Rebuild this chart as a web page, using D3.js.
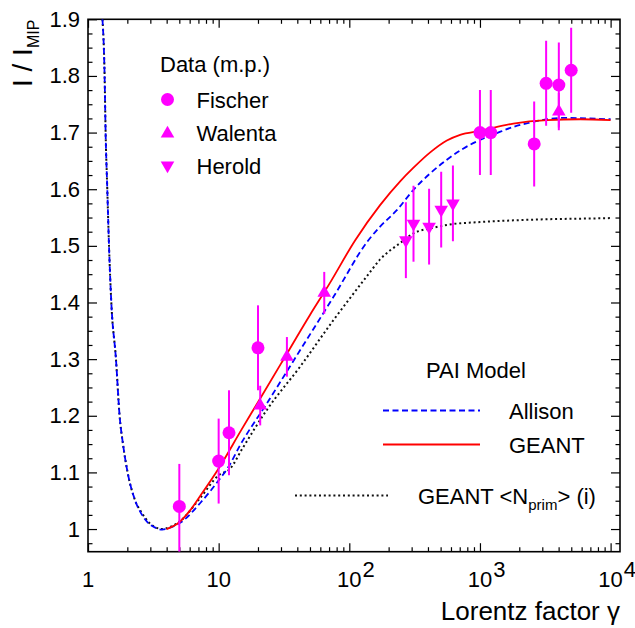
<!DOCTYPE html>
<html>
<head>
<meta charset="utf-8">
<script src="https://cdn.jsdelivr.net/npm/d3@7"></script>
<style>
  html, body { margin: 0; padding: 0; background: #fff; }
  svg { display: block; font-family: "Liberation Sans", Arial, Helvetica, sans-serif; }
</style>
</head>
<body>
<svg id="chart" width="635" height="628"></svg>
<script>
// ---- measured points (most probable value), relative to minimum ionisation ----
const fischerGamma  = [5, 10, 12, 20, 1000, 1210, 2600, 3210, 4015, 4990];
const fischerValue  = [1.04, 1.12, 1.17, 1.32, 1.70, 1.70, 1.68, 1.787, 1.784, 1.81];
const fischerErrLo  = [0.08, 0.075, 0.075, 0.075, 0.075, 0.075, 0.075, 0.075, 0.075, 0.075];
const fischerErrHi  = [0.075, 0.075, 0.075, 0.075, 0.075, 0.075, 0.075, 0.075, 0.075, 0.075];

const walentaGamma  = [20.8, 33.3, 64.3, 4015];
const walentaValue  = [1.218, 1.304, 1.417, 1.737];
const walentaErr    = [0.035, 0.035, 0.037, 0.033];

const heroldGamma   = [271, 310, 408, 505, 621];
const heroldValue   = [1.51, 1.539, 1.534, 1.564, 1.575];
const heroldErr     = [0.067, 0.067, 0.067, 0.067, 0.067];

// ---- PAI model curves ----
const allisonGamma = [1.29, 1.34, 1.364, 1.405, 1.448, 1.508, 1.637, 1.745, 1.853, 2.01, 2.30, 2.59, 2.91, 3.3, 3.7,
                      4.3, 5.08, 7.23, 10, 11.9, 14.6, 23.4, 42.1, 75.7, 140, 172, 231, 310, 416, 558, 748,
                      1000, 1345, 1804, 2420, 3250, 4350, 6580, 10000];
const allisonValue = [1.9, 1.8, 1.7, 1.6, 1.5, 1.4, 1.3, 1.2, 1.15, 1.1, 1.05, 1.025, 1.01, 1.002, 0.999,
                      1.003, 1.011, 1.046, 1.086, 1.110, 1.148, 1.222, 1.316, 1.41, 1.51, 1.534, 1.563, 1.599, 1.628, 1.652, 1.672,
                      1.687, 1.699, 1.710, 1.7175, 1.7235, 1.726, 1.725, 1.7235];

const geantGamma = [4.0, 5.0, 6.0, 7.2, 10, 15, 20, 30, 50, 70, 111, 172, 245, 310, 416, 558, 705,
                    1000, 1800, 3250, 5850, 10000];
const geantValue = [1.0, 1.012, 1.032, 1.058, 1.107, 1.176, 1.224, 1.292, 1.378, 1.432, 1.51, 1.572, 1.614, 1.638, 1.665, 1.686, 1.696,
                    1.703, 1.716, 1.722, 1.7235, 1.722];

const nprimGamma = [1.29, 1.34, 1.364, 1.405, 1.448, 1.508, 1.637, 1.745, 1.853, 2.01, 2.30, 2.59, 2.91, 3.3, 3.7,
                    4.3, 5.08, 7.23, 10, 12.3, 15, 23.4, 42.1, 75.7, 136, 172, 245, 310, 441, 558,
                    1000, 1800, 3250, 5850, 10000];
const nprimValue = [1.9, 1.8, 1.7, 1.6, 1.5, 1.4, 1.3, 1.2, 1.15, 1.1, 1.05, 1.028, 1.012, 1.003, 1.0,
                    1.004, 1.014, 1.055, 1.095, 1.107, 1.14, 1.2105, 1.287, 1.369, 1.446, 1.476, 1.505, 1.522, 1.532, 1.537,
                    1.542, 1.545, 1.547, 1.548, 1.549];

// ---- axis ticks ----
const xMajorTicks = [1, 10, 100, 1000, 10000];
const xMajorLabels = [["1", ""], ["10", ""], ["10", "2"], ["10", "3"], ["10", "4"]];
const yMajorTicks = [1.0, 1.1, 1.2, 1.3, 1.4, 1.5, 1.6, 1.7, 1.8, 1.9];
const yMajorLabels = ["1", "1.1", "1.2", "1.3", "1.4", "1.5", "1.6", "1.7", "1.8", "1.9"];

// ---- frame and scales ----
const frameL = 88, frameR = 620, frameT = 19.3, frameB = 551.7;
const x = d3.scaleLog().domain([1, 11800]).range([frameL, frameR]);
const y = d3.scaleLinear().domain([0.96, 1.9]).range([frameB, frameT]);

const svg = d3.select("#chart");
const MAG = "#ff00ff";
const DASH_BLUE = "6,3.5";
const DOTS = "2,2.8";

svg.append("defs").append("clipPath").attr("id", "plotclip")
  .append("rect").attr("x", frameL).attr("y", frameT).attr("width", frameR - frameL).attr("height", frameB - frameT);

// minor tick values
const xMinor = [];
for (let k = 0; k < 4; k++) for (let m = 2; m <= 9; m++) xMinor.push(m * Math.pow(10, k));
const yMinor = [];
for (let i = 0; i <= 37; i++) {
  const v = +(0.975 + i * 0.025).toFixed(3);
  if (v <= 1.9 && Math.abs(v * 10 - Math.round(v * 10)) > 1e-6) yMinor.push(v);
}

function styleAxis(g) {
  g.select(".domain").remove();
  g.selectAll(".tick line").attr("stroke", "#000").attr("stroke-width", 1.2);
}

// bottom / top axes
svg.append("g").attr("transform", `translate(0,${frameB})`)
  .call(d3.axisBottom(x).tickValues(xMajorTicks).tickSize(-8.5).tickSizeOuter(0).tickFormat(""))
  .call(styleAxis);
svg.append("g").attr("transform", `translate(0,${frameB})`)
  .call(d3.axisBottom(x).tickValues(xMinor).tickSize(-4.5).tickSizeOuter(0).tickFormat(""))
  .call(styleAxis);
svg.append("g").attr("transform", `translate(0,${frameT})`)
  .call(d3.axisTop(x).tickValues(xMajorTicks).tickSize(-8.5).tickSizeOuter(0).tickFormat(""))
  .call(styleAxis);
svg.append("g").attr("transform", `translate(0,${frameT})`)
  .call(d3.axisTop(x).tickValues(xMinor).tickSize(-4.5).tickSizeOuter(0).tickFormat(""))
  .call(styleAxis);

// left / right axes
const yAxisLeft = svg.append("g").attr("transform", `translate(${frameL},0)`)
  .call(d3.axisLeft(y).tickValues(yMajorTicks).tickSize(-9).tickSizeOuter(0).tickPadding(8)
        .tickFormat((d, i) => yMajorLabels[i]));
yAxisLeft.call(styleAxis);
yAxisLeft.selectAll(".tick text").attr("font-size", 22).attr("fill", "#000")
  .attr("font-family", "'Liberation Sans', Arial, sans-serif");
svg.append("g").attr("transform", `translate(${frameL},0)`)
  .call(d3.axisLeft(y).tickValues(yMinor).tickSize(-4.5).tickSizeOuter(0).tickFormat(""))
  .call(styleAxis);
svg.append("g").attr("transform", `translate(${frameR},0)`)
  .call(d3.axisRight(y).tickValues(yMajorTicks).tickSize(-9).tickSizeOuter(0).tickFormat(""))
  .call(styleAxis);
svg.append("g").attr("transform", `translate(${frameR},0)`)
  .call(d3.axisRight(y).tickValues(yMinor).tickSize(-4.5).tickSizeOuter(0).tickFormat(""))
  .call(styleAxis);

// x tick labels with exponents
const xl = svg.append("g").attr("font-size", 22).attr("fill", "#000");
xMajorTicks.forEach((t, i) => {
  const [base, exp] = xMajorLabels[i];
  xl.append("text").attr("x", x(t)).attr("y", 586.5).attr("text-anchor", "middle").text(base);
  if (exp) {
    const w = base.length * 12.2;
    xl.append("text").attr("x", x(t) + w / 2 + 1).attr("y", 576.5).text(exp);
  }
});

// frame
svg.append("rect").attr("x", frameL).attr("y", frameT).attr("width", frameR - frameL).attr("height", frameB - frameT)
  .attr("fill", "none").attr("stroke", "#000").attr("stroke-width", 1.6);

// axis titles
svg.append("text").attr("x", 620).attr("y", 620).attr("text-anchor", "end")
  .attr("font-size", 26).text("Lorentz factor γ");
const yt = svg.append("text").attr("transform", "translate(31.5,87) rotate(-90)")
  .attr("font-size", 28);
yt.append("tspan").text("I / I");
yt.append("tspan").attr("font-size", 16).attr("dy", 7).text("MIP");

// ---- model curves ----
const plot = svg.append("g").attr("clip-path", "url(#plotclip)");
const line = d3.line().x(d => x(d[0])).y(d => y(d[1])).curve(d3.curveMonotoneX);

plot.append("path").datum(d3.zip(nprimGamma, nprimValue)).attr("d", line)
  .attr("fill", "none").attr("stroke", "#111").attr("stroke-width", 2).attr("stroke-dasharray", DOTS);
plot.append("path").datum(d3.zip(allisonGamma, allisonValue)).attr("d", line)
  .attr("fill", "none").attr("stroke", "#0000ff").attr("stroke-width", 1.8).attr("stroke-dasharray", DASH_BLUE);
plot.append("path").datum(d3.zip(geantGamma, geantValue)).attr("d", line)
  .attr("fill", "none").attr("stroke", "#ff0000").attr("stroke-width", 1.8);

// ---- data points ----
function errorBars(gs, vs, lo, hi) {
  plot.append("g").selectAll("line").data(gs).join("line")
    .attr("x1", d => x(d)).attr("x2", d => x(d))
    .attr("y1", (d, i) => y(vs[i] - lo[i])).attr("y2", (d, i) => y(vs[i] + hi[i]))
    .attr("stroke", MAG).attr("stroke-width", 2);
}
errorBars(fischerGamma, fischerValue, fischerErrLo, fischerErrHi);
errorBars(walentaGamma, walentaValue, walentaErr, walentaErr);
errorBars(heroldGamma, heroldValue, heroldErr, heroldErr);

const circle = d3.symbol(d3.symbolCircle, Math.PI * 6.5 * 6.5);
const tri = d3.symbol(d3.symbolTriangle, 80);

plot.append("g").selectAll("path").data(fischerGamma).join("path")
  .attr("d", circle).attr("fill", MAG)
  .attr("transform", (d, i) => `translate(${x(d)},${y(fischerValue[i])})`);
plot.append("g").selectAll("path").data(walentaGamma).join("path")
  .attr("d", tri).attr("fill", MAG)
  .attr("transform", (d, i) => `translate(${x(d)},${y(walentaValue[i])})`);
plot.append("g").selectAll("path").data(heroldGamma).join("path")
  .attr("d", tri).attr("fill", MAG)
  .attr("transform", (d, i) => `translate(${x(d)},${y(heroldValue[i])}) rotate(180)`);

// ---- legend: data ----
const leg = svg.append("g").attr("font-size", 22).attr("fill", "#000");
leg.append("text").attr("x", 160).attr("y", 71.5).text("Data (m.p.)");
leg.append("path").attr("d", circle).attr("fill", MAG).attr("transform", "translate(167.5,99.5)");
leg.append("text").attr("x", 196.5).attr("y", 107.5).text("Fischer");
leg.append("path").attr("d", tri).attr("fill", MAG).attr("transform", "translate(167.5,133.5)");
leg.append("text").attr("x", 196.5).attr("y", 141).text("Walenta");
leg.append("path").attr("d", tri).attr("fill", MAG).attr("transform", "translate(167.5,165.5) rotate(180)");
leg.append("text").attr("x", 196.5).attr("y", 174).text("Herold");

// ---- legend: model ----
leg.append("text").attr("x", 426).attr("y", 377.5).text("PAI Model");
leg.append("line").attr("x1", 383).attr("x2", 480).attr("y1", 410.5).attr("y2", 410.5)
  .attr("stroke", "#0000ff").attr("stroke-width", 1.8).attr("stroke-dasharray", DASH_BLUE);
leg.append("text").attr("x", 509).attr("y", 419).text("Allison");
leg.append("line").attr("x1", 383).attr("x2", 480).attr("y1", 444.5).attr("y2", 444.5)
  .attr("stroke", "#ff0000").attr("stroke-width", 1.8);
leg.append("text").attr("x", 509).attr("y", 453).text("GEANT");
leg.append("line").attr("x1", 295).attr("x2", 388).attr("y1", 495.5).attr("y2", 495.5)
  .attr("stroke", "#111").attr("stroke-width", 2).attr("stroke-dasharray", DOTS);
const gt = leg.append("text").attr("x", 418).attr("y", 504);
gt.append("tspan").text("GEANT <N");
gt.append("tspan").attr("font-size", 15).attr("dy", 6).text("prim");
gt.append("tspan").attr("dy", -6).text("> (i)");
</script>
</body>
</html>
